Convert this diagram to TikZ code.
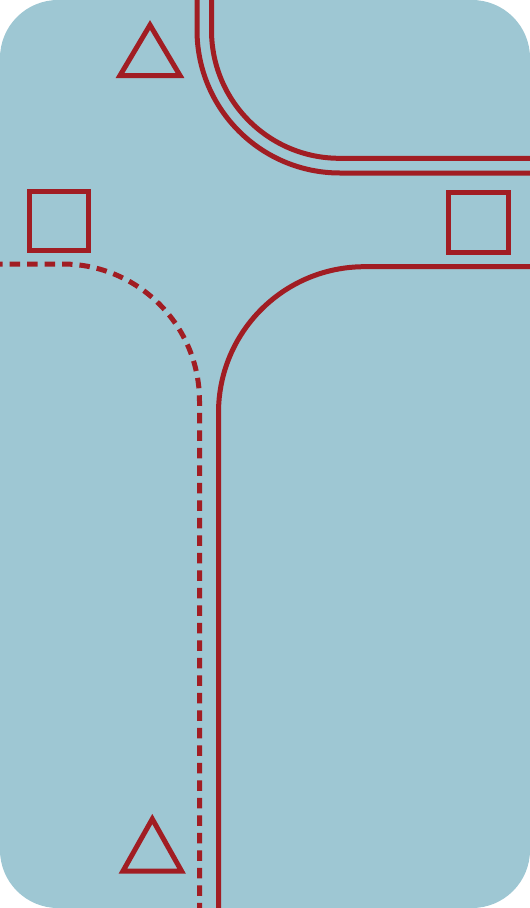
\documentclass[tikz,border=0pt]{standalone}
\usetikzlibrary{positioning}
\definecolor{roadbg}{HTML}{9EC7D3}
\definecolor{roadred}{HTML}{A11D23}

\begin{document}
\begin{tikzpicture}[x=1pt, y=-1pt,
  ln/.style   ={draw=roadred, line width=5pt},
  lane/.style ={ln, dash pattern=on 10.5pt off 7pt, dash phase=8pt},
  sign/.style ={ln, minimum size=59pt, inner sep=0pt, outer sep=0pt}]

\useasboundingbox (0,0) rectangle (530,908);
\fill[roadbg, rounded corners=58pt] (0,0) rectangle (530,908);

% double line, top right corner
\draw[ln, rounded corners=143pt] (197,0) -- (197,173) -- (530,173);
\draw[ln, rounded corners=128pt] (211.5,0) -- (211.5,158.3) -- (530,158.3);

% solid edge of the lower road
\draw[ln, rounded corners=146pt] (530,266.7) -- (218.5,266.7) -- (218.5,908);

% dashed lane
\draw[lane, rounded corners=137pt] (0,264) -- (199.5,264) -- (199.5,908);

% square markers
\node[sign] (sqL) at (59,221) {};
\node[sign, minimum size=60pt] (sqR) at (478,222) {};

% triangle markers
\draw[ln] (120,75.5) -- (180,75.5) -- (150,25) -- cycle;
\draw[ln] (123,871) -- (181.5,871) -- (152.3,819) -- cycle;
\end{tikzpicture}
\end{document}
